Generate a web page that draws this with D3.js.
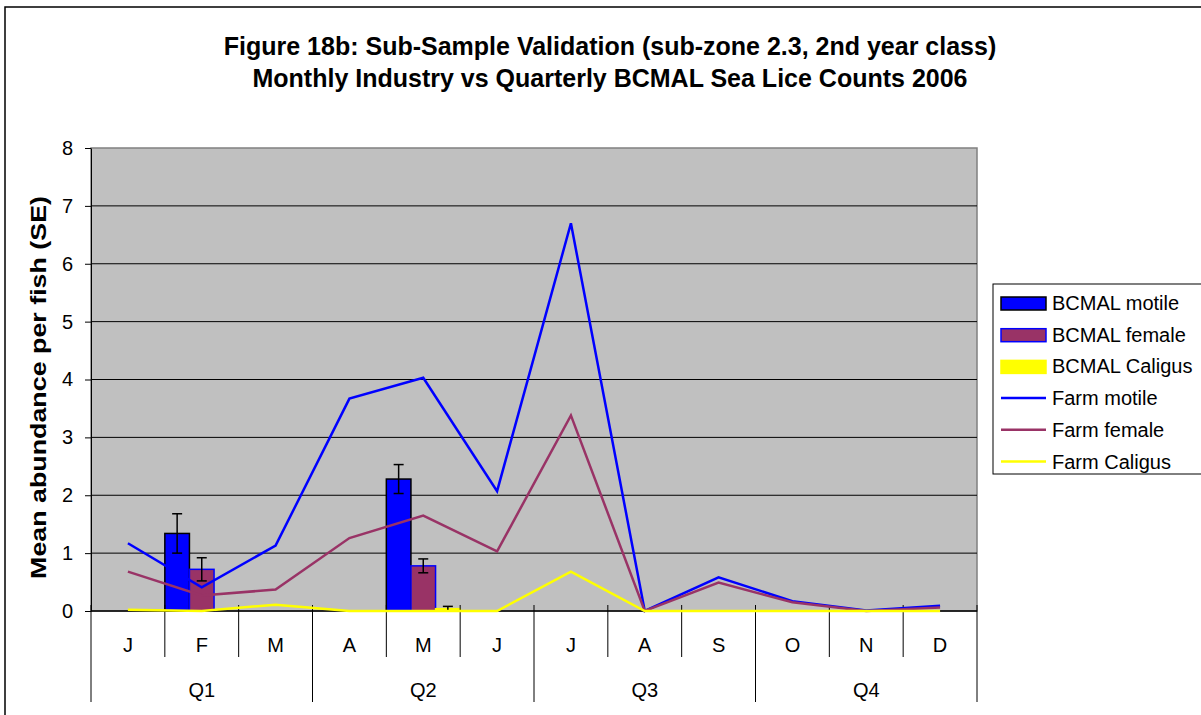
<!DOCTYPE html>
<html>
<head>
<meta charset="utf-8">
<script src="https://cdn.jsdelivr.net/npm/d3@7"></script>
<style>
    body { margin: 0; background: #fff; }
    svg { display: block; font-family: Arial, "Liberation Sans", sans-serif; }
</style>
</head>
<body>
<svg id="chart" width="1201" height="715"></svg>
<script>
let months = ['J', 'F', 'M', 'A', 'M', 'J', 'J', 'A', 'S', 'O', 'N', 'D'];
let quarters = ['Q1', 'Q2', 'Q3', 'Q4'];

let bcmalMotile = [null, 1.34, null, null, 2.28, null, null, null, null, null, null, null];
let bcmalMotileSE = [null, 0.34, null, null, 0.25, null, null, null, null, null, null, null];
let bcmalFemale = [null, 0.72, null, null, 0.78, null, null, null, null, null, null, null];
let bcmalFemaleSE = [null, 0.2, null, null, 0.12, null, null, null, null, null, null, null];
let bcmalCaligus = [null, 0, null, null, 0.04, null, null, null, null, null, null, null];
let bcmalCaligusSE = [null, 0, null, null, 0.04, null, null, null, null, null, null, null];

let farmMotile = [1.17, 0.41, 1.13, 3.67, 4.03, 2.07, 6.70, 0.0, 0.58, 0.17, 0.01, 0.09];
let farmFemale = [0.68, 0.27, 0.37, 1.26, 1.65, 1.03, 3.38, 0.0, 0.49, 0.15, 0.0, 0.06];
let farmCaligus = [0.02, 0.0, 0.11, 0.0, 0.0, 0.0, 0.68, 0.0, 0.0, 0.0, 0.0, 0.0];

let yTicks = [0, 1, 2, 3, 4, 5, 6, 7, 8];

let svg = d3.select('#chart');

let plot = {left: 91, right: 977, top: 148, bottom: 611};

let x = d3.scaleBand()
    .domain(d3.range(months.length))
    .range([plot.left, plot.right])
    .padding(0);

let barSeries = [
    {name: 'BCMAL motile', values: bcmalMotile, se: bcmalMotileSE, fill: '#0000ff', stroke: '#000'},
    {name: 'BCMAL female', values: bcmalFemale, se: bcmalFemaleSE, fill: '#993366', stroke: '#0000ff'},
    {name: 'BCMAL Caligus', values: bcmalCaligus, se: bcmalCaligusSE, fill: '#ffff00', stroke: '#ffff00'}
];

let lineSeries = [
    {name: 'Farm motile', values: farmMotile, color: '#0000ff'},
    {name: 'Farm female', values: farmFemale, color: '#993366'},
    {name: 'Farm Caligus', values: farmCaligus, color: '#ffff00'}
];

let xInner = d3.scaleBand()
    .domain(barSeries.map(s => s.name))
    .range([0, x.bandwidth()])
    .padding(0);

let y = d3.scaleLinear()
    .domain([0, 8])
    .range([plot.bottom, plot.top]);

// outer frame
svg.append('rect')
    .attr('x', 5).attr('y', 7)
    .attr('width', 1400).attr('height', 800)
    .attr('fill', '#fff')
    .attr('stroke', '#000')
    .attr('stroke-width', 1.5);

svg.append('text')
    .attr('x', 610).attr('y', 55)
    .attr('text-anchor', 'middle')
    .attr('font-size', 25).attr('font-weight', 'bold')
    .text('Figure 18b: Sub-Sample Validation (sub-zone 2.3, 2nd year class)');

svg.append('text')
    .attr('x', 610).attr('y', 87)
    .attr('text-anchor', 'middle')
    .attr('font-size', 25).attr('font-weight', 'bold')
    .text('Monthly Industry vs Quarterly BCMAL Sea Lice Counts 2006');

svg.append('rect')
    .attr('x', plot.left).attr('y', plot.top)
    .attr('width', plot.right - plot.left).attr('height', plot.bottom - plot.top)
    .attr('fill', '#c0c0c0')
    .attr('stroke', '#808080')
    .attr('stroke-width', 1.5);

svg.append('g')
    .selectAll('line')
    .data(yTicks.filter(t => t > 0 && t < 8))
    .join('line')
    .attr('x1', plot.left).attr('x2', plot.right)
    .attr('y1', d => y(d)).attr('y2', d => y(d))
    .attr('stroke', '#000')
    .attr('stroke-width', 1);

let yAxis = svg.append('g')
    .attr('transform', `translate(${plot.left},0)`)
    .call(d3.axisLeft(y).tickValues(yTicks).tickSize(6).tickPadding(12).tickSizeOuter(0));
yAxis.selectAll('text').attr('font-size', 20).attr('fill', '#000').attr('font-family', 'Arial, "Liberation Sans", sans-serif');
yAxis.selectAll('line').attr('stroke', '#000');
yAxis.select('.domain').attr('stroke', '#000');

svg.append('text')
    .attr('transform', `translate(46,${(plot.top + plot.bottom) / 2 + 8}) rotate(-90) scale(1.22,1)`)
    .attr('text-anchor', 'middle')
    .attr('font-size', 22).attr('font-weight', 'bold')
    .text('Mean abundance per fish (SE)');

// bars
let barGroup = svg.append('g');
barSeries.forEach(s => {
    let data = s.values.map((v, i) => ({i: i, v: v, se: s.se[i]})).filter(d => d.v !== null);
    barGroup.append('g')
        .selectAll('rect')
        .data(data)
        .join('rect')
        .attr('x', d => x(d.i) + xInner(s.name))
        .attr('width', xInner.bandwidth())
        .attr('y', d => y(d.v))
        .attr('height', d => y(0) - y(d.v))
        .attr('fill', s.fill)
        .attr('stroke', d => d.v > 0 ? s.stroke : 'none')
        .attr('stroke-width', 1.5);
});

barSeries.forEach(s => {
    let data = s.values.map((v, i) => ({i: i, v: v, se: s.se[i]})).filter(d => d.v !== null && d.se > 0);
    let g = barGroup.append('g').attr('stroke', '#000').attr('stroke-width', 1.5);
    data.forEach(d => {
        let cx = x(d.i) + xInner(s.name) + xInner.bandwidth() / 2;
        g.append('line').attr('x1', cx).attr('x2', cx).attr('y1', y(d.v + d.se)).attr('y2', y(Math.max(0, d.v - d.se)));
        g.append('line').attr('x1', cx - 5).attr('x2', cx + 5).attr('y1', y(d.v + d.se)).attr('y2', y(d.v + d.se));
        g.append('line').attr('x1', cx - 5).attr('x2', cx + 5).attr('y1', y(Math.max(0, d.v - d.se))).attr('y2', y(Math.max(0, d.v - d.se)));
    });
});

// category axis
svg.append('line')
    .attr('x1', plot.left).attr('x2', plot.right)
    .attr('y1', plot.bottom).attr('y2', plot.bottom)
    .attr('stroke', '#000').attr('stroke-width', 1.5);

let bounds = d3.range(months.length + 1);
svg.append('g')
    .selectAll('line')
    .data(bounds)
    .join('line')
    .attr('x1', i => i < months.length ? x(i) : plot.right)
    .attr('x2', i => i < months.length ? x(i) : plot.right)
    .attr('y1', plot.bottom - 6)
    .attr('y2', i => i % 3 === 0 ? 702 : 657)
    .attr('stroke', '#000')
    .attr('stroke-width', 1);

svg.append('g')
    .selectAll('text')
    .data(months)
    .join('text')
    .attr('x', (d, i) => x(i) + x.bandwidth() / 2)
    .attr('y', 652)
    .attr('text-anchor', 'middle')
    .attr('font-size', 20)
    .text(d => d);

svg.append('g')
    .selectAll('text')
    .data(quarters)
    .join('text')
    .attr('x', (d, i) => x(i * 3) + x.bandwidth() * 1.5)
    .attr('y', 697)
    .attr('text-anchor', 'middle')
    .attr('font-size', 20)
    .text(d => d);

// lines
let line = d3.line()
    .x((d, i) => x(i) + x.bandwidth() / 2)
    .y(d => y(d));

svg.append('g')
    .selectAll('path')
    .data(lineSeries)
    .join('path')
    .attr('d', s => line(s.values))
    .attr('fill', 'none')
    .attr('stroke', s => s.color)
    .attr('stroke-width', 2.5)
    .attr('stroke-linejoin', 'miter');

// legend
let legend = svg.append('g').attr('transform', 'translate(993,284)');
legend.append('rect')
    .attr('width', 300).attr('height', 190)
    .attr('fill', '#fff')
    .attr('stroke', '#000')
    .attr('stroke-width', 1);

let legendItems = barSeries.map(s => ({name: s.name, type: 'bar', s: s}))
    .concat(lineSeries.map(s => ({name: s.name, type: 'line', s: s})));

let rows = legend.selectAll('g.item')
    .data(legendItems)
    .join('g')
    .attr('class', 'item')
    .attr('transform', (d, i) => `translate(0,${19 + i * 31.7})`);

rows.filter(d => d.type === 'bar')
    .append('rect')
    .attr('x', 8).attr('y', -6)
    .attr('width', 45).attr('height', 13)
    .attr('fill', d => d.s.fill)
    .attr('stroke', d => d.s.stroke)
    .attr('stroke-width', 1.5);

rows.filter(d => d.type === 'line')
    .append('line')
    .attr('x1', 8).attr('x2', 53)
    .attr('y1', 0).attr('y2', 0)
    .attr('stroke', d => d.s.color)
    .attr('stroke-width', 2.5);

rows.append('text')
    .attr('x', 59).attr('y', 0)
    .attr('dy', '0.35em')
    .attr('font-size', 20)
    .text(d => d.name);
</script>
</body>
</html>
